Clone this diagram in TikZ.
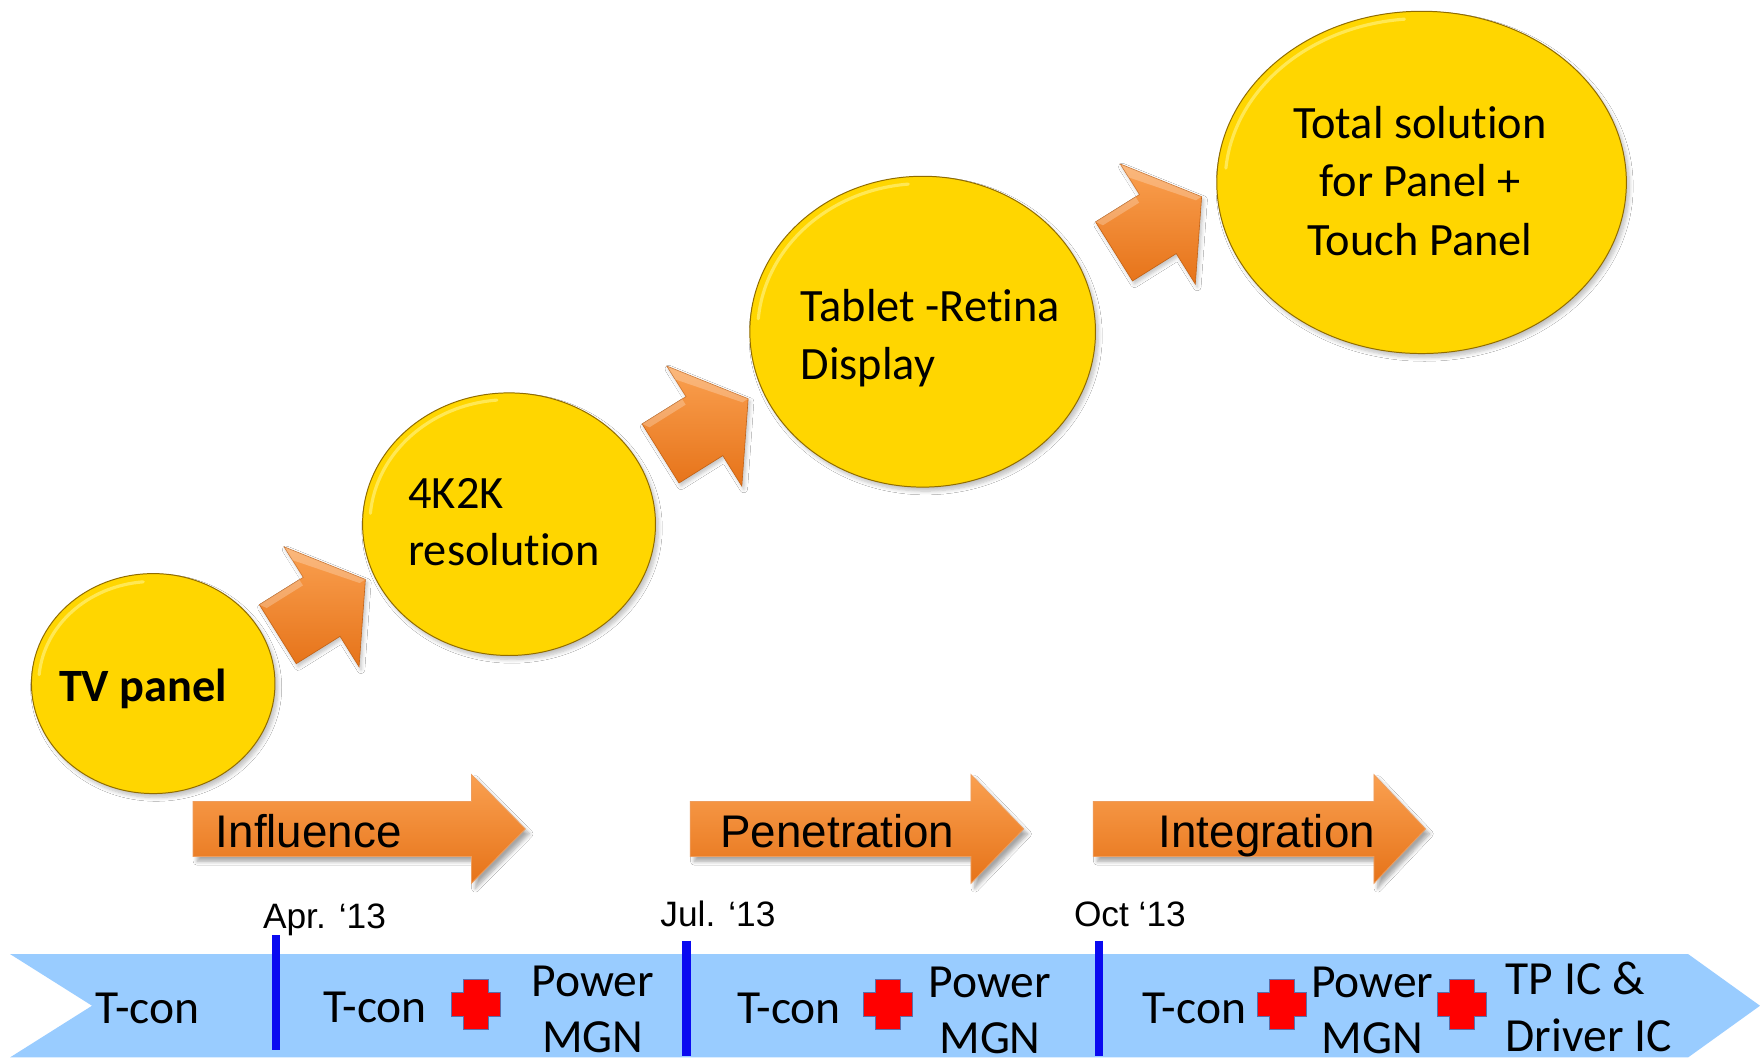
\documentclass[tikz,border=0pt]{standalone}
\usepackage{fontspec}
\setmainfont[Ligatures={NoCommon}]{Carlito}
\newfontfamily\arialfont{Liberation Sans}
\usetikzlibrary{shapes.geometric,shadows,shadows.blur}
\definecolor{ygold}{RGB}{255,214,0}
\definecolor{ygoldb}{RGB}{238,192,0}
\definecolor{yrim}{RGB}{160,120,0}
\definecolor{yhigh}{RGB}{255,240,120}
\definecolor{orl}{RGB}{250,160,80}
\definecolor{ord}{RGB}{230,115,25}
\definecolor{bandblue}{RGB}{153,204,255}
\definecolor{barblue}{RGB}{10,10,240}
\definecolor{plusred}{RGB}{255,0,0}
\definecolor{plusedge}{RGB}{90,110,170}
\pgfdeclareradialshading{ballshade}{\pgfpoint{0bp}{0bp}}{color(0bp)=(ygold); color(42bp)=(ygold); color(46.5bp)=(ygoldb); color(49.2bp)=(yrim); color(50bp)=(yrim)}
\newcommand{\ti}{t\kern0pt i}
\tikzset{
  ball/.style={ellipse, inner sep=0pt, shade, shading=ballshade, draw=yrim!90!black, line width=0.5pt,
    blur shadow={shadow xshift=1.5pt, shadow yshift=-2pt, shadow opacity=25, shadow blur steps=6}},
  highlight/.style={draw=yhigh, line width=1.6pt, opacity=0.7, line cap=round},
  ctext/.style={font=\fontsize{23.5}{28}\selectfont, inner sep=0pt},
  tvtext/.style={font=\fontsize{23.5}{28}\selectfont\bfseries, inner sep=0pt},
  btext/.style={font=\fontsize{24.1}{29}\selectfont, inner sep=0pt},
  atext/.style={font=\arialfont\fontsize{23.2}{28}\selectfont, inner sep=0pt},
  dtext/.style={font=\arialfont\fontsize{17.9}{21}\selectfont, inner sep=0pt},
  orshade/.style={top color=orl, bottom color=ord, draw=ord!85!black, line width=0.3pt},
  bandarrow/.style={top color=orl, bottom color=ord, draw=ord!70!white, line width=0.4pt,
    blur shadow={shadow xshift=2pt, shadow yshift=-2.5pt, shadow opacity=35, shadow blur steps=6}},
  barline/.style={draw=barblue, line width=4.4pt},
  smallarr/.pic={
    \shade[orshade, blur shadow={shadow xshift=1pt, shadow yshift=-1.5pt, shadow opacity=25}]
      (0,-31) -- (46,-31) -- (46,-63) -- (92,0) -- (46,63) -- (46,31) -- (0,31) -- cycle;
    \fill[white, opacity=0.25] (0,-31) -- (46,-31) -- (46,-63) -- (92,0) -- (86,0) -- (42,-54) -- (42,-25) -- (4,-25) -- cycle;
  },
  plussign/.pic={
    \filldraw[fill=plusred, draw=plusedge, line width=0.5pt]
      (-11,-22) -- (11,-22) -- (11,-11) -- (22,-11) -- (22,11) -- (11,11) -- (11,22)
      -- (-11,22) -- (-11,11) -- (-22,11) -- (-22,-11) -- (-11,-11) -- cycle;
  }
}
\begin{document}
\begin{tikzpicture}[x=0.02cm, y=-0.02cm]
\useasboundingbox (0,0) rectangle (1568,947);
\fill[white] (0,0) rectangle (1568,947);

% small 3D arrows
\pic[shift={(247.5,565)}, rotate=32] {smallarr};
\pic[shift={(588.5,404)}, rotate=32] {smallarr};
\pic[shift={(992.5,224)}, rotate=32] {smallarr};

% yellow discs
\node[ball, minimum width=4.34cm, minimum height=3.92cm] (tv) at (136.5,609) {};
\node[ball, minimum width=5.22cm, minimum height=4.68cm] (k4) at (453.5,467) {};
\node[ball, minimum width=6.16cm, minimum height=5.54cm] (tab) at (822,295.5) {};
\node[ball, minimum width=7.30cm, minimum height=6.10cm] (tot) at (1266.5,162.5) {};
\draw[highlight] (tv.center) ++(185:102 and 91) arc[start angle=185, end angle=265, x radius=102, y radius=91];
\draw[highlight] (k4.center) ++(185:124 and 111) arc[start angle=185, end angle=265, x radius=124, y radius=111];
\draw[highlight] (tab.center) ++(185:147 and 132) arc[start angle=185, end angle=265, x radius=147, y radius=132];
\draw[highlight] (tot.center) ++(185:175 and 146) arc[start angle=185, end angle=265, x radius=175, y radius=146];

% disc texts
\node[tvtext, anchor=base] (tvt) at (127.5,625) {TV panel};
\node[ctext, anchor=base west] (k4a) at (363.5,452.6) {4K2K};
\node[ctext, anchor=base west] (k4b) at (363.5,503.4) {resolu\ti on};
\node[ctext, anchor=base west] (taba) at (713,286.5) {Tablet -Re\ti na};
\node[ctext, anchor=base west] (tabb) at (713,338.5) {Display};
\node[ctext, anchor=base] (tota) at (1265,123.5) {Total solu\ti on};
\node[ctext, anchor=base] (totb) at (1265,175.5) {for Panel +};
\node[ctext, anchor=base] (totc) at (1265,227.5) {Touch Panel};

% phase arrows
\shade[bandarrow] (172,714) -- (420,714) -- (420,690) -- (468,738.5) -- (420,787) -- (420,763) -- (172,763) -- cycle;
\shade[bandarrow] (615,714) -- (865,714) -- (865,690) -- (912,738.5) -- (865,787) -- (865,763) -- (615,763) -- cycle;
\shade[bandarrow] (974,714) -- (1224,714) -- (1224,690) -- (1270,738.5) -- (1224,787) -- (1224,763) -- (974,763) -- cycle;
\node[atext, anchor=base west] (infl) at (192,755) {Influence};
\node[atext, anchor=base west] (pene) at (641.5,755) {Penetration};
\node[atext, anchor=base west] (integ) at (1032,755) {Integration};

% timeline band
\fill[bandblue] (9,850) -- (1504,850) -- (1568,896) -- (1504,942) -- (9,942) -- (82,896) -- cycle;

% date markers
\draw[barline] (246,833) -- (246,935.5);
\draw[barline] (611.5,838) -- (611.5,941);
\draw[barline] (979,838) -- (979,941);
\node[dtext, anchor=base west] (apr) at (234,827) {Apr. ‘13};
\node[dtext, anchor=base west] (jul) at (588,825.6) {Jul. ‘13};
\node[dtext, anchor=base west] (oct) at (956.5,825.6) {Oct ‘13};

% band texts
\node[btext, anchor=base] (tc1) at (131.5,911.6) {T-con};
\node[btext, anchor=base] (tc2) at (334,911.2) {T-con};
\pic at (424,895) {plussign};
\node[btext, anchor=base] (pw1) at (528,888) {Power};
\node[btext, anchor=base] (mg1) at (528,938) {MGN};
\node[btext, anchor=base] (tc3) at (703,912) {T-con};
\pic at (791,895) {plussign};
\node[btext, anchor=base] (pw2) at (882,888.5) {Power};
\node[btext, anchor=base] (mg2) at (882,938.5) {MGN};
\node[btext, anchor=base] (tc4) at (1064,912) {T-con};
\pic at (1142,895) {plussign};
\node[btext, anchor=base] (pw3) at (1222.5,888.5) {Power};
\node[btext, anchor=base] (mg3) at (1222.5,938.5) {MGN};
\pic at (1302.5,895) {plussign};
\node[btext, anchor=base west] (tp1) at (1341,885.6) {TP IC \&};
\node[btext, anchor=base west] (tp2) at (1341,937) {Driver IC};
\end{tikzpicture}
\end{document}
